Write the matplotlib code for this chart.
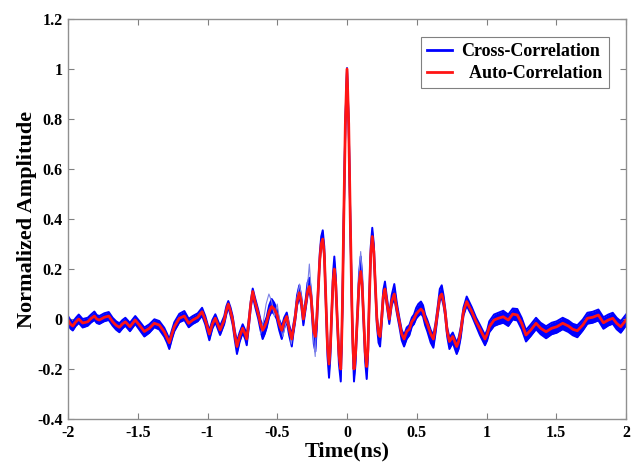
import numpy as np
import matplotlib

matplotlib.use("Agg")
import matplotlib.pyplot as plt
from matplotlib.lines import Line2D

# time axis (ns) and red auto-correlation trace
time_ns = [
    # left flat part
    -2.000, -1.983, -1.966, -1.945, -1.923, -1.895, -1.859, -1.835,
    -1.811, -1.794, -1.776, -1.740, -1.708, -1.680, -1.655, -1.632,
    -1.610, -1.589, -1.556, -1.518, -1.489, -1.453, -1.417, -1.381,
    -1.346, -1.310, -1.290, -1.274, -1.255, -1.238, -1.202, -1.166,
    -1.135, -1.106, -1.070, -1.039, -1.016, -0.987, -0.965, -0.944,
    -0.910, -0.880, -0.865, -0.851, -0.835, -0.820, -0.805, -0.789,
    -0.770, -0.748, -0.730, -0.719, -0.705, -0.690,
    # left of centre
    -0.676, -0.660, -0.636, -0.620, -0.605, -0.590, -0.576, -0.558,
    -0.540, -0.522, -0.504, -0.486, -0.468, -0.450, -0.432, -0.415,
    -0.396, -0.385, -0.373, -0.358, -0.342, -0.328, -0.313, -0.296,
    -0.283,
    # centre
    -0.270, -0.258, -0.248, -0.238, -0.227, -0.217, -0.206, -0.195,
    -0.185, -0.174, -0.163, -0.152, -0.140, -0.129, -0.119, -0.110,
    -0.100, -0.091, -0.081, -0.070, -0.058, -0.045, -0.039, -0.033,
    -0.024, -0.012, 0.000, 0.012, 0.024, 0.035, 0.042, 0.050,
    0.061, 0.072, 0.086, 0.098, 0.108, 0.119, 0.130, 0.141,
    0.150, 0.160, 0.170, 0.181, 0.192, 0.203, 0.214, 0.226,
    0.237, 0.248, 0.260, 0.272,
    # right of centre
    0.285, 0.303, 0.320, 0.339, 0.357, 0.375, 0.392, 0.409,
    0.428, 0.447, 0.465, 0.480, 0.496, 0.511, 0.530, 0.545,
    0.560, 0.576, 0.600, 0.619, 0.635, 0.650, 0.665, 0.679,
    0.692, 0.703, 0.718, 0.734, 0.758, 0.786, 0.800, 0.815,
    0.835, 0.858, 0.875, 0.894, 0.925, 0.953, 0.989, 1.005,
    # right flat part
    1.020, 1.054, 1.085, 1.120, 1.156, 1.188, 1.221, 1.252,
    1.283, 1.317, 1.355, 1.388, 1.427, 1.467, 1.503, 1.546,
    1.587, 1.618, 1.651, 1.690, 1.723, 1.761, 1.802, 1.838,
    1.873, 1.905, 1.933, 1.962, 2.000,
]

auto_corr = [
    -0.004, -0.020, -0.028, -0.012, 0.000, -0.016, -0.011, 0.002,
    0.012, 0.000, -0.004, 0.007, 0.012, -0.011, -0.025, -0.033,
    -0.020, -0.011, -0.031, -0.004, -0.024, -0.050, -0.037, -0.017,
    -0.024, -0.051, -0.075, -0.095, -0.060, -0.031, 0.003, 0.012,
    -0.017, -0.004, 0.007, 0.029, -0.004, -0.060, -0.020, 0.003,
    -0.044, -0.004, 0.035, 0.060, 0.030, -0.004, -0.060, -0.110,
    -0.070, -0.037, -0.060, -0.080, -0.020, 0.060,
    0.110, 0.070, 0.020, -0.020, -0.045, -0.030, -0.010, 0.030,
    0.050, 0.040, 0.020, -0.020, -0.045, -0.010, 0.010, -0.040,
    -0.080, -0.040, 0.000, 0.070, 0.105, 0.070, 0.000, 0.060,
    0.110,
    0.130, 0.090, 0.020, -0.050, -0.070, 0.000, 0.120, 0.240,
    0.300, 0.320, 0.260, 0.080, -0.110, -0.180, -0.110, 0.020,
    0.150, 0.200, 0.140, 0.000, -0.140, -0.200, -0.100, 0.050,
    0.380, 0.780, 1.000, 0.780, 0.380, 0.050, -0.100, -0.200,
    -0.140, -0.020, 0.140, 0.190, 0.140, 0.000, -0.130, -0.190,
    -0.120, 0.080, 0.260, 0.330, 0.270, 0.130, 0.000, -0.060,
    -0.070, 0.000, 0.090, 0.120,
    0.070, 0.000, 0.070, 0.100, 0.040, -0.010, -0.060, -0.080,
    -0.050, -0.040, -0.010, 0.000, 0.020, 0.030, 0.040, 0.030,
    0.000, -0.020, -0.060, -0.080, -0.030, 0.030, 0.090, 0.100,
    0.070, 0.030, -0.050, -0.090, -0.070, -0.110, -0.090, -0.050,
    0.030, 0.070, 0.050, 0.030, -0.010, -0.040, -0.080, -0.060,
    -0.031, -0.004, 0.003, 0.009, -0.004, 0.020, 0.016, -0.017,
    -0.064, -0.044, -0.017, -0.037, -0.051, -0.037, -0.031, -0.017,
    -0.028, -0.041, -0.047, -0.024, 0.003, 0.007, 0.016, -0.015,
    -0.004, 0.003, -0.017, -0.031, -0.004,
]

# how far the bundle of cross-correlation traces reaches above / below the red trace
cross_above = [
    0.016, 0.016, 0.016, 0.016, 0.018, 0.016, 0.016, 0.016,
    0.018, 0.016, 0.016, 0.016, 0.016, 0.016, 0.016, 0.016,
    0.016, 0.016, 0.016, 0.016, 0.016, 0.016, 0.016, 0.016,
    0.016, 0.016, 0.016, 0.014, 0.016, 0.018, 0.018, 0.020,
    0.018, 0.016, 0.016, 0.016, 0.016, 0.014, 0.016, 0.016,
    0.016, 0.016, 0.016, 0.012, 0.016, 0.016, 0.016, 0.020,
    0.016, 0.016, 0.016, 0.016, 0.016, 0.012,
    0.012, 0.016, 0.016, 0.016, 0.018, 0.018, 0.018, 0.025,
    0.030, 0.025, 0.020, 0.018, 0.016, 0.016, 0.016, 0.018,
    0.016, 0.016, 0.016, 0.025, 0.030, 0.020, 0.016, 0.020,
    0.035,
    0.035, 0.025, 0.015, 0.012, 0.012, 0.012, 0.015, 0.025,
    0.030, 0.035, 0.030, 0.015, 0.010, 0.008, 0.010, 0.015,
    0.035, 0.050, 0.035, 0.012, 0.008, 0.006, 0.006, 0.006,
    0.005, 0.005, 0.004, 0.005, 0.005, 0.006, 0.006, 0.006,
    0.008, 0.015, 0.040, 0.060, 0.040, 0.012, 0.008, 0.008,
    0.010, 0.020, 0.030, 0.035, 0.030, 0.020, 0.012, 0.012,
    0.012, 0.015, 0.025, 0.030,
    0.020, 0.016, 0.025, 0.040, 0.025, 0.016, 0.016, 0.016,
    0.016, 0.016, 0.016, 0.018, 0.025, 0.030, 0.030, 0.025,
    0.018, 0.016, 0.016, 0.016, 0.016, 0.020, 0.030, 0.035,
    0.025, 0.016, 0.016, 0.016, 0.016, 0.016, 0.016, 0.016,
    0.016, 0.020, 0.020, 0.018, 0.016, 0.016, 0.016, 0.016,
    0.022, 0.022, 0.022, 0.024, 0.022, 0.022, 0.024, 0.022,
    0.020, 0.022, 0.022, 0.022, 0.022, 0.022, 0.022, 0.022,
    0.022, 0.022, 0.022, 0.022, 0.022, 0.022, 0.022, 0.022,
    0.022, 0.022, 0.022, 0.022, 0.022,
]

cross_below = [
    0.016, 0.018, 0.018, 0.016, 0.016, 0.018, 0.016, 0.016,
    0.016, 0.016, 0.016, 0.016, 0.016, 0.016, 0.018, 0.020,
    0.018, 0.016, 0.018, 0.016, 0.018, 0.020, 0.018, 0.016,
    0.018, 0.020, 0.020, 0.025, 0.020, 0.018, 0.016, 0.016,
    0.016, 0.016, 0.016, 0.016, 0.018, 0.025, 0.018, 0.016,
    0.020, 0.016, 0.016, 0.012, 0.016, 0.018, 0.022, 0.030,
    0.022, 0.018, 0.020, 0.025, 0.018, 0.014,
    0.016, 0.018, 0.020, 0.025, 0.035, 0.030, 0.025, 0.020,
    0.020, 0.020, 0.020, 0.025, 0.035, 0.025, 0.020, 0.025,
    0.030, 0.020, 0.016, 0.016, 0.016, 0.018, 0.025, 0.018,
    0.016,
    0.012, 0.015, 0.030, 0.050, 0.060, 0.040, 0.015, 0.010,
    0.008, 0.008, 0.010, 0.020, 0.040, 0.055, 0.040, 0.015,
    0.010, 0.008, 0.010, 0.020, 0.040, 0.050, 0.035, 0.010,
    0.005, 0.005, 0.004, 0.005, 0.005, 0.010, 0.035, 0.050,
    0.040, 0.015, 0.010, 0.008, 0.010, 0.020, 0.040, 0.050,
    0.035, 0.015, 0.010, 0.008, 0.010, 0.015, 0.025, 0.035,
    0.040, 0.025, 0.015, 0.012,
    0.016, 0.020, 0.016, 0.016, 0.016, 0.020, 0.025, 0.030,
    0.030, 0.025, 0.020, 0.020, 0.018, 0.018, 0.018, 0.020,
    0.025, 0.030, 0.035, 0.035, 0.025, 0.016, 0.016, 0.016,
    0.016, 0.016, 0.020, 0.030, 0.025, 0.030, 0.030, 0.025,
    0.016, 0.016, 0.016, 0.016, 0.018, 0.025, 0.025, 0.025,
    0.022, 0.024, 0.024, 0.024, 0.024, 0.022, 0.022, 0.024,
    0.026, 0.024, 0.024, 0.024, 0.026, 0.024, 0.024, 0.024,
    0.024, 0.024, 0.026, 0.022, 0.022, 0.022, 0.022, 0.024,
    0.022, 0.022, 0.024, 0.024, 0.022,
]

# a few stray cross-correlation traces that leave the bundle near the centre
stray_a_t = [-0.620, -0.600, -0.580, -0.560, -0.540, -0.520, -0.500, -0.480,
             -0.460, -0.440, -0.420, -0.400, -0.380, -0.360, -0.340, -0.320,
             -0.300, -0.285, -0.270, -0.255, -0.240, -0.228, -0.215]
stray_a_y = [-0.060, -0.010, 0.060, 0.100, 0.070, 0.010, 0.060, -0.020,
             -0.070, -0.020, 0.000, -0.100, -0.030, 0.080, 0.140, 0.060,
             0.030, 0.120, 0.220, 0.100, -0.080, -0.150, 0.050]
stray_b_t = [0.061, 0.072, 0.086, 0.098, 0.110, 0.122, 0.134]
stray_b_y = [-0.150, -0.020, 0.180, 0.270, 0.170, 0.000, -0.170]

x_ticks = [-2, -1.5, -1, -0.5, 0, 0.5, 1, 1.5, 2]
y_ticks = [-0.4, -0.2, 0, 0.2, 0.4, 0.6, 0.8, 1, 1.2]

assert len(time_ns) == len(auto_corr) == len(cross_above) == len(cross_below)

t = np.array(time_ns)
r = np.array(auto_corr)
hi = r + np.array(cross_above)
lo = r - np.array(cross_below)

plt.rcParams["font.family"] = ["Liberation Serif", "DejaVu Serif"]
plt.rcParams["font.weight"] = "bold"

fig = plt.figure(figsize=(6.31, 4.63), dpi=100)
ax = fig.add_axes([0.1078, 0.095, 0.8843, 0.8639])

blue = "#0000ff"
red = "#ff1414"
ax.fill_between(t, lo, hi, color=blue, lw=0)
ax.plot(t, hi, color=blue, lw=1.4)
ax.plot(t, lo, color=blue, lw=1.4)
ax.plot(stray_a_t, stray_a_y, color="#7c82e6", lw=0.8)
ax.plot(stray_b_t, stray_b_y, color="#7c82e6", lw=0.8)
ax.plot(t, r, color=red, lw=2.0)

ax.set_xlim(-2, 2)
ax.set_ylim(-0.4, 1.2)
ax.set_xticks(x_ticks, [f"{v:g}" for v in x_ticks])
ax.set_yticks(y_ticks, [f"{v:g}" for v in y_ticks])
ax.tick_params(direction="in", top=True, right=True, length=4, width=0.8,
               color="#808080", labelsize=11.5, pad=4)
for s in ax.spines.values():
    s.set_color("#909090")
    s.set_linewidth(1.0)

ax.set_xlabel("Time(ns)", fontsize=16, fontweight="bold", labelpad=1)
ax.set_ylabel("Normalized Amplitude", fontsize=16, fontweight="bold", labelpad=0)

handles = [Line2D([], [], color=blue, lw=2), Line2D([], [], color=red, lw=2)]
leg = ax.legend(handles, ["Cross-Correlation", "  Auto-Correlation"],
                loc="upper right", bbox_to_anchor=(0.9695, 0.955), borderaxespad=0,
                fancybox=False, framealpha=1, edgecolor="#808080", handlelength=1.4,
                handletextpad=0.5, prop={"size": 13, "weight": "bold"},
                borderpad=0.35, labelspacing=0.25)
leg.get_frame().set_linewidth(0.8)

fig.savefig("out.png", dpi=100)
